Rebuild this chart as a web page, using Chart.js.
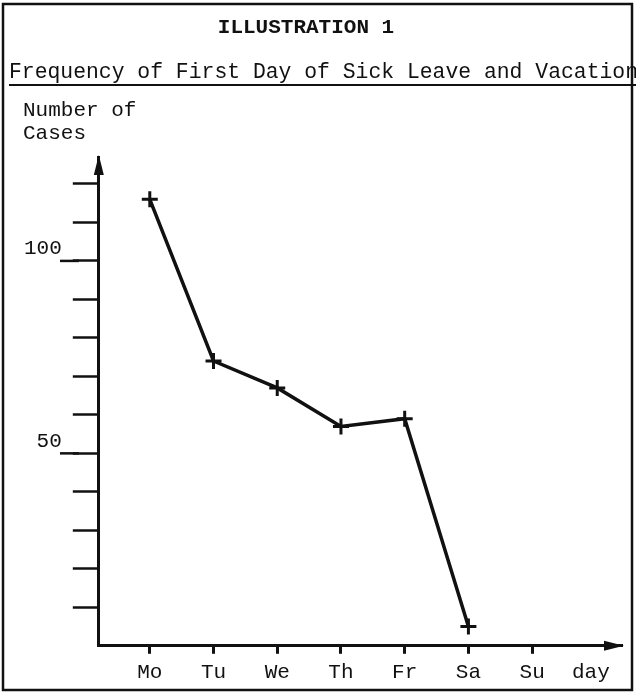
<!DOCTYPE html>
<html>
<head>
<meta charset="utf-8">
<title>Illustration 1</title>
<script src="https://cdn.jsdelivr.net/npm/chart.js@4.4.1/dist/chart.umd.min.js"></script>
<style>
  html, body { margin: 0; padding: 0; background: #fff; }
  #wrap { width: 636px; height: 693px; position: relative; }
</style>
</head>
<body>
<div id="wrap"><canvas id="sickChart"></canvas></div>
<script>
// Data
const dayLabels = ['Mo', 'Tu', 'We', 'Th', 'Fr', 'Sa', 'Su'];
const caseCounts = [116, 74, 67, 57, 59, 5, null];
const yTickValues = [10, 20, 30, 40, 50, 60, 70, 80, 90, 100, 110, 120];
const yLabelledTicks = [50, 100];

const typeFont = '"Liberation Mono", "DejaVu Sans Mono", monospace';
const ink = '#111';

// Texts, frame and arrow heads drawn around the plot
const decorPlugin = {
    id: 'decor',
    afterDraw(chart) {
        const ctx = chart.ctx;
        const area = chart.chartArea;
        const yScale = chart.scales.y;
        const xScale = chart.scales.x;
        ctx.save();
        ctx.fillStyle = ink;
        ctx.strokeStyle = ink;

        // outer frame
        ctx.lineWidth = 2.5;
        ctx.strokeRect(3, 4, 629, 686);

        // headings
        ctx.font = 'bold 21px ' + typeFont;
        ctx.textBaseline = 'alphabetic';
        ctx.textAlign = 'center';
        ctx.fillText('ILLUSTRATION 1', 306, 33);
        ctx.textAlign = 'left';
        ctx.font = '21.4px ' + typeFont;
        ctx.fillText('Frequency of First Day of Sick Leave and Vacation', 9, 78);
        ctx.lineWidth = 2;
        ctx.beginPath();
        ctx.moveTo(9, 85);
        ctx.lineTo(636, 85);
        ctx.stroke();

        // y caption
        ctx.font = '21px ' + typeFont;
        ctx.fillText('Number of', 23, 116);
        ctx.fillText('Cases', 23, 139);

        // x caption
        ctx.textBaseline = 'middle';
        ctx.fillText('day', 572, 672);

        // longer ticks under the labelled values
        ctx.lineWidth = 2.5;
        yLabelledTicks.forEach(v => {
            const py = yScale.getPixelForValue(v);
            ctx.beginPath();
            ctx.moveTo(60, py);
            ctx.lineTo(area.left - 20, py);
            ctx.stroke();
        });

        // arrow heads
        ctx.beginPath();
        ctx.moveTo(area.left, area.top - 2);
        ctx.lineTo(area.left - 5, area.top + 18);
        ctx.lineTo(area.left + 5, area.top + 18);
        ctx.closePath();
        ctx.fill();

        ctx.beginPath();
        ctx.moveTo(xScale.right + 2, area.bottom);
        ctx.lineTo(xScale.right - 18, area.bottom - 5);
        ctx.lineTo(xScale.right - 18, area.bottom + 5);
        ctx.closePath();
        ctx.fill();
        ctx.restore();
    }
};

function setupChart() {
    const ctx = document.getElementById('sickChart').getContext('2d');
    const points = dayLabels.map((d, i) => ({ x: i + 1, y: caseCounts[i] }));

    new Chart(ctx, {
        type: 'line',
        data: {
            datasets: [{
                label: 'Cases',
                data: points,
                borderColor: ink,
                borderWidth: 3.5,
                pointStyle: 'cross',
                pointRadius: 8,
                pointBorderWidth: 3,
                pointBorderColor: ink,
                tension: 0,
                fill: false
            }]
        },
        options: {
            responsive: true,
            maintainAspectRatio: false,
            animation: false,
            layout: {
                padding: { top: 157, right: 14, bottom: 2, left: 13 }
            },
            plugins: {
                legend: { display: false },
                tooltip: { enabled: false }
            },
            scales: {
                x: {
                    type: 'linear',
                    min: 0.2,
                    max: 8.41,
                    afterBuildTicks: scale => {
                        scale.ticks = dayLabels.map((d, i) => ({ value: i + 1 }));
                    },
                    border: { display: true, color: ink, width: 3 },
                    grid: {
                        drawOnChartArea: false,
                        drawTicks: true,
                        tickLength: 8,
                        tickWidth: 3,
                        tickColor: ink
                    },
                    ticks: {
                        color: ink,
                        font: { family: typeFont, size: 21 },
                        padding: 6,
                        maxRotation: 0,
                        autoSkip: false,
                        callback: value => dayLabels[Math.round(value) - 1] || ''
                    }
                },
                y: {
                    type: 'linear',
                    min: 0,
                    max: 127,
                    afterBuildTicks: scale => {
                        scale.ticks = yTickValues.map(v => ({ value: v }));
                    },
                    border: { display: true, color: ink, width: 3 },
                    grid: {
                        drawOnChartArea: false,
                        drawTicks: true,
                        tickLength: 26,
                        tickWidth: 2.5,
                        tickColor: ink
                    },
                    ticks: {
                        color: ink,
                        font: { family: typeFont, size: 21 },
                        padding: 11,
                        labelOffset: -12,
                        autoSkip: false,
                        callback: value => yLabelledTicks.includes(value) ? String(value) : ''
                    }
                }
            }
        },
        plugins: [decorPlugin]
    });
}

document.addEventListener('DOMContentLoaded', setupChart);
</script>
</body>
</html>
